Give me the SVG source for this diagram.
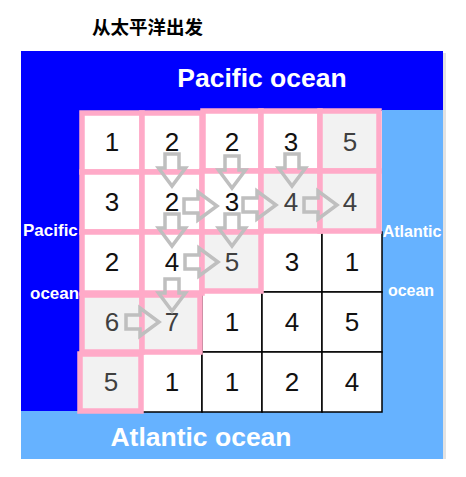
<svg xmlns="http://www.w3.org/2000/svg" width="466" height="477" viewBox="0 0 466 477">
<style>
  .bg { stroke: none; }
  .lbl { font-family: "Liberation Sans", Arial, sans-serif; font-weight: bold; fill: #ffffff; }
  .cell { fill: #ffffff; stroke: #000000; stroke-width: 1.5; }
  .cell.grey { fill: #f2f2f2; }
  .cell.hl { stroke: #ffaac8; stroke-width: 5.5; }
  .num { font-family: "Liberation Sans", Arial, sans-serif; font-size: 26px; fill: #111111; text-anchor: middle; }
  .num.dim { fill: #404040; }
  .arrow { fill: none; stroke: #bfbfbf; stroke-width: 3.5; stroke-linejoin: miter; }
</style>
<defs>
  <path id="down" d="M-7,-17 H7 V-3 H13.5 L0,15 L-13.5,-3 H-7 Z"/>
  <path id="right" d="M-18,-7 H-4 V-14 L15,0 L-4,14 V7 H-18 Z"/>
</defs>
<rect width="466" height="477" fill="#ffffff"/>
<text x="92" y="34" font-family="'Noto Sans CJK SC', 'Noto Sans CJK JP', sans-serif" font-size="18.5" font-weight="bold" fill="#000000">从太平洋出发</text>
<g id="oceans">
  <rect x="443" y="53" width="3" height="406" fill="#e2e2e2"/>
  <rect class="bg" x="21" y="51" width="422" height="60" fill="#0000ff"/>
  <rect class="bg" x="21" y="51" width="61" height="360" fill="#0000ff"/>
  <rect class="bg" x="382" y="110" width="61" height="349" fill="#66b2ff"/>
  <rect class="bg" x="21" y="411" width="422" height="48" fill="#66b2ff"/>
  <text class="lbl" x="262" y="87" font-size="26.5" text-anchor="middle">Pacific ocean</text>
  <text class="lbl" x="201" y="446" font-size="26.5" text-anchor="middle">Atlantic ocean</text>
  <text class="lbl" x="23" y="236" font-size="17">Pacific</text>
  <text class="lbl" x="30" y="299" font-size="17">ocean</text>
  <text class="lbl" x="412" y="237" font-size="16" text-anchor="middle">Atlantic</text>
  <text class="lbl" x="411" y="296" font-size="16" text-anchor="middle">ocean</text>
</g>
<g id="grid">
  <g id="c34"><rect class="cell" x="262" y="232" width="60" height="60"/><text class="num" x="292" y="271">3</text></g>
  <g id="c35"><rect class="cell" x="322" y="232" width="60" height="60"/><text class="num" x="352" y="271">1</text></g>
  <g id="c43"><rect class="cell" x="202" y="292" width="60" height="60"/><text class="num" x="232" y="331">1</text></g>
  <g id="c44"><rect class="cell" x="262" y="292" width="60" height="60"/><text class="num" x="292" y="331">4</text></g>
  <g id="c45"><rect class="cell" x="322" y="292" width="60" height="60"/><text class="num" x="352" y="331">5</text></g>
  <g id="c52"><rect class="cell" x="142" y="352" width="60" height="60"/><text class="num" x="172" y="391">1</text></g>
  <g id="c53"><rect class="cell" x="202" y="352" width="60" height="60"/><text class="num" x="232" y="391">1</text></g>
  <g id="c54"><rect class="cell" x="262" y="352" width="60" height="60"/><text class="num" x="292" y="391">2</text></g>
  <g id="c55"><rect class="cell" x="322" y="352" width="60" height="60"/><text class="num" x="352" y="391">4</text></g>

  <g id="c11"><rect class="cell hl" x="82" y="113" width="60" height="59"/><text class="num" x="112" y="151">1</text></g>
  <g id="c12"><rect class="cell hl" x="142" y="113" width="60" height="59"/><text class="num" x="172" y="151">2</text></g>
  <g id="c13"><rect class="cell hl" x="203" y="111" width="58" height="60"/><text class="num" x="232" y="151">2</text></g>
  <g id="c14"><rect class="cell hl" x="261" y="111" width="59" height="60"/><text class="num" x="291" y="151">3</text></g>
  <g id="c15"><rect class="cell hl grey" x="320" y="111" width="59" height="60"/><text class="num dim" x="350" y="151">5</text></g>
  <g id="c21"><rect class="cell hl" x="82" y="172" width="60" height="60"/><text class="num" x="112" y="211">3</text></g>
  <g id="c22"><rect class="cell hl" x="142" y="172" width="60" height="60"/><text class="num" x="172" y="211">2</text></g>
  <g id="c23"><rect class="cell hl" x="202" y="171" width="59" height="61"/><text class="num" x="232" y="211">3</text></g>
  <g id="c24"><rect class="cell hl grey" x="261" y="171" width="59" height="60"/><text class="num dim" x="291" y="211">4</text></g>
  <g id="c25"><rect class="cell hl grey" x="320" y="171" width="59" height="60"/><text class="num dim" x="350" y="211">4</text></g>
  <g id="c31"><rect class="cell hl" x="82" y="232" width="60" height="61"/><text class="num" x="112" y="271">2</text></g>
  <g id="c32"><rect class="cell hl" x="142" y="232" width="60" height="61"/><text class="num" x="172" y="271">4</text></g>
  <g id="c33"><rect class="cell hl grey" x="202" y="232" width="59" height="59"/><text class="num dim" x="232" y="271">5</text></g>
  <g id="c41"><rect class="cell hl grey" x="82" y="295" width="60" height="57"/><text class="num dim" x="112" y="331">6</text></g>
  <g id="c42"><rect class="cell hl grey" x="142" y="295" width="58" height="57"/><text class="num dim" x="172" y="331">7</text></g>
  <g id="c51"><rect class="cell hl grey" x="80" y="354" width="61" height="57"/><text class="num dim" x="111" y="391">5</text></g>
</g>
<g id="connectors">
  <use href="#down" class="arrow" x="172" y="171"/>
  <use href="#down" class="arrow" x="232" y="173"/>
  <use href="#down" class="arrow" x="292" y="171"/>
  <use href="#down" class="arrow" x="172" y="231"/>
  <use href="#down" class="arrow" x="232" y="231"/>
  <use href="#down" class="arrow" x="172" y="296"/>
  <use href="#right" class="arrow" x="202" y="206"/>
  <use href="#right" class="arrow" x="261" y="205"/>
  <use href="#right" class="arrow" x="322" y="205"/>
  <use href="#right" class="arrow" x="203" y="262"/>
  <use href="#right" class="arrow" x="144" y="322"/>
</g>
</svg>
